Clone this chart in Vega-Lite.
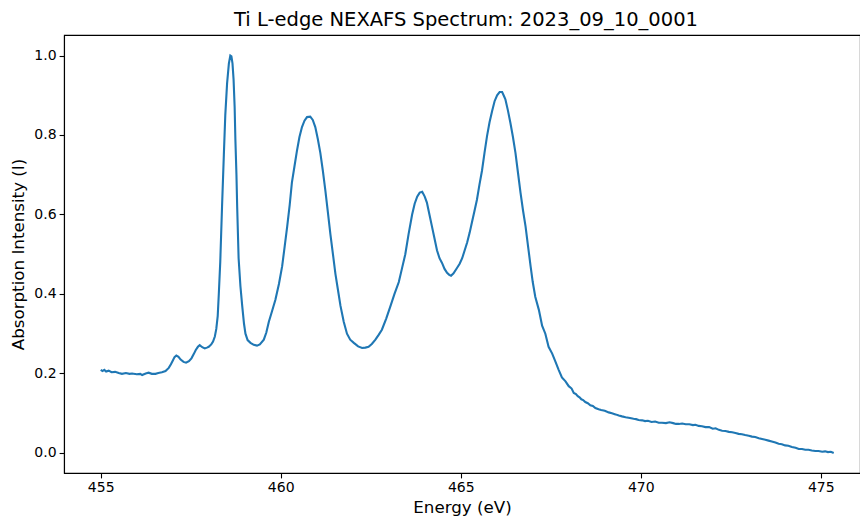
{
  "$schema": "https://vega.github.io/schema/vega-lite/v6.json",
  "width": 796,
  "height": 438,
  "autosize": {"type": "none"},
  "padding": {"left": 64, "top": 35, "right": 0, "bottom": 45},
  "background": "white",
  "title": {
    "text": "Ti L-edge NEXAFS Spectrum: 2023_09_10_0001",
    "font": "DejaVu Sans",
    "fontSize": 19.5,
    "fontWeight": "normal",
    "color": "black",
    "anchor": "middle",
    "dx": 4,
    "offset": 5
  },
  "config": {
    "view": {"stroke": "black", "strokeWidth": 1.1},
    "axis": {
      "grid": false,
      "domainColor": "black",
      "domainWidth": 1.1,
      "tickColor": "black",
      "tickWidth": 1.1,
      "tickSize": 4.9,
      "labelFont": "DejaVu Sans",
      "labelFontSize": 14,
      "labelColor": "black",
      "labelPadding": 3,
      "titleFont": "DejaVu Sans",
      "titleFontSize": 16.7,
      "titleFontWeight": "normal",
      "titleColor": "black"
    }
  },
  "data": {
    "values": [
      {"E": 455.00, "I": 0.209}, {"E": 455.05, "I": 0.206}, {"E": 455.10, "I": 0.209}, {"E": 455.15, "I": 0.205},
      {"E": 455.22, "I": 0.207}, {"E": 455.30, "I": 0.203}, {"E": 455.40, "I": 0.204}, {"E": 455.50, "I": 0.201},
      {"E": 455.59, "I": 0.199}, {"E": 455.70, "I": 0.201}, {"E": 455.80, "I": 0.199}, {"E": 455.87, "I": 0.200},
      {"E": 456.00, "I": 0.198}, {"E": 456.10, "I": 0.199}, {"E": 456.15, "I": 0.196}, {"E": 456.25, "I": 0.200},
      {"E": 456.33, "I": 0.202}, {"E": 456.42, "I": 0.199}, {"E": 456.52, "I": 0.199}, {"E": 456.60, "I": 0.201},
      {"E": 456.70, "I": 0.203}, {"E": 456.80, "I": 0.206}, {"E": 456.89, "I": 0.214}, {"E": 456.95, "I": 0.223},
      {"E": 457.00, "I": 0.232}, {"E": 457.05, "I": 0.241}, {"E": 457.10, "I": 0.245}, {"E": 457.16, "I": 0.242},
      {"E": 457.22, "I": 0.235}, {"E": 457.30, "I": 0.229}, {"E": 457.37, "I": 0.227}, {"E": 457.45, "I": 0.231},
      {"E": 457.52, "I": 0.238}, {"E": 457.58, "I": 0.248}, {"E": 457.64, "I": 0.259}, {"E": 457.70, "I": 0.267},
      {"E": 457.75, "I": 0.271}, {"E": 457.82, "I": 0.266}, {"E": 457.89, "I": 0.263}, {"E": 457.95, "I": 0.265},
      {"E": 458.00, "I": 0.267}, {"E": 458.07, "I": 0.273}, {"E": 458.12, "I": 0.280}, {"E": 458.17, "I": 0.293},
      {"E": 458.21, "I": 0.312}, {"E": 458.25, "I": 0.345}, {"E": 458.28, "I": 0.40}, {"E": 458.32, "I": 0.48},
      {"E": 458.37, "I": 0.62}, {"E": 458.42, "I": 0.75}, {"E": 458.46, "I": 0.85}, {"E": 458.51, "I": 0.93},
      {"E": 458.56, "I": 0.98}, {"E": 458.60, "I": 1.0}, {"E": 458.63, "I": 0.998}, {"E": 458.66, "I": 0.98},
      {"E": 458.69, "I": 0.94}, {"E": 458.72, "I": 0.87}, {"E": 458.74, "I": 0.79}, {"E": 458.77, "I": 0.70},
      {"E": 458.79, "I": 0.62}, {"E": 458.83, "I": 0.49}, {"E": 458.88, "I": 0.42}, {"E": 458.93, "I": 0.37},
      {"E": 458.98, "I": 0.325}, {"E": 459.02, "I": 0.300}, {"E": 459.08, "I": 0.284}, {"E": 459.16, "I": 0.277},
      {"E": 459.25, "I": 0.272}, {"E": 459.34, "I": 0.270}, {"E": 459.42, "I": 0.273}, {"E": 459.53, "I": 0.285},
      {"E": 459.60, "I": 0.303}, {"E": 459.67, "I": 0.330}, {"E": 459.76, "I": 0.357}, {"E": 459.85, "I": 0.385},
      {"E": 459.95, "I": 0.425}, {"E": 460.04, "I": 0.47}, {"E": 460.11, "I": 0.52}, {"E": 460.18, "I": 0.57},
      {"E": 460.25, "I": 0.625}, {"E": 460.31, "I": 0.68}, {"E": 460.38, "I": 0.72}, {"E": 460.45, "I": 0.76},
      {"E": 460.52, "I": 0.795}, {"E": 460.59, "I": 0.82}, {"E": 460.66, "I": 0.836}, {"E": 460.73, "I": 0.845},
      {"E": 460.82, "I": 0.846}, {"E": 460.89, "I": 0.838}, {"E": 460.96, "I": 0.82}, {"E": 461.03, "I": 0.79},
      {"E": 461.10, "I": 0.755}, {"E": 461.17, "I": 0.71}, {"E": 461.24, "I": 0.66}, {"E": 461.31, "I": 0.605},
      {"E": 461.38, "I": 0.55}, {"E": 461.45, "I": 0.50}, {"E": 461.52, "I": 0.45}, {"E": 461.59, "I": 0.41},
      {"E": 461.66, "I": 0.37}, {"E": 461.75, "I": 0.33}, {"E": 461.84, "I": 0.30}, {"E": 461.93, "I": 0.285},
      {"E": 462.03, "I": 0.277}, {"E": 462.15, "I": 0.268}, {"E": 462.26, "I": 0.264}, {"E": 462.35, "I": 0.265},
      {"E": 462.44, "I": 0.267}, {"E": 462.53, "I": 0.274}, {"E": 462.63, "I": 0.285}, {"E": 462.72, "I": 0.297},
      {"E": 462.81, "I": 0.31}, {"E": 462.93, "I": 0.338}, {"E": 463.05, "I": 0.37}, {"E": 463.16, "I": 0.40},
      {"E": 463.28, "I": 0.43}, {"E": 463.37, "I": 0.465}, {"E": 463.46, "I": 0.50}, {"E": 463.55, "I": 0.55},
      {"E": 463.65, "I": 0.60}, {"E": 463.72, "I": 0.627}, {"E": 463.79, "I": 0.645}, {"E": 463.86, "I": 0.655},
      {"E": 463.93, "I": 0.657}, {"E": 464.00, "I": 0.645}, {"E": 464.06, "I": 0.63}, {"E": 464.13, "I": 0.60},
      {"E": 464.20, "I": 0.57}, {"E": 464.27, "I": 0.54}, {"E": 464.34, "I": 0.51}, {"E": 464.41, "I": 0.49},
      {"E": 464.48, "I": 0.478}, {"E": 464.55, "I": 0.463}, {"E": 464.62, "I": 0.453}, {"E": 464.68, "I": 0.448},
      {"E": 464.73, "I": 0.446}, {"E": 464.80, "I": 0.452}, {"E": 464.90, "I": 0.466}, {"E": 464.97, "I": 0.476},
      {"E": 465.04, "I": 0.49}, {"E": 465.11, "I": 0.51}, {"E": 465.18, "I": 0.53}, {"E": 465.25, "I": 0.555},
      {"E": 465.31, "I": 0.58}, {"E": 465.38, "I": 0.608}, {"E": 465.45, "I": 0.637}, {"E": 465.52, "I": 0.675},
      {"E": 465.59, "I": 0.71}, {"E": 465.66, "I": 0.755}, {"E": 465.73, "I": 0.797}, {"E": 465.80, "I": 0.832},
      {"E": 465.87, "I": 0.86}, {"E": 465.94, "I": 0.885}, {"E": 466.01, "I": 0.90}, {"E": 466.08, "I": 0.908},
      {"E": 466.15, "I": 0.908}, {"E": 466.20, "I": 0.898}, {"E": 466.24, "I": 0.89}, {"E": 466.31, "I": 0.862},
      {"E": 466.38, "I": 0.83}, {"E": 466.45, "I": 0.795}, {"E": 466.52, "I": 0.755}, {"E": 466.59, "I": 0.705},
      {"E": 466.66, "I": 0.655}, {"E": 466.73, "I": 0.61}, {"E": 466.80, "I": 0.57}, {"E": 466.87, "I": 0.52},
      {"E": 466.94, "I": 0.47}, {"E": 467.00, "I": 0.43}, {"E": 467.07, "I": 0.393}, {"E": 467.17, "I": 0.36},
      {"E": 467.26, "I": 0.32}, {"E": 467.35, "I": 0.30}, {"E": 467.44, "I": 0.267}, {"E": 467.54, "I": 0.25},
      {"E": 467.63, "I": 0.23}, {"E": 467.72, "I": 0.209}, {"E": 467.81, "I": 0.19}, {"E": 467.91, "I": 0.18},
      {"E": 468.00, "I": 0.168}, {"E": 468.08, "I": 0.162}, {"E": 468.14, "I": 0.151}, {"E": 468.20, "I": 0.148},
      {"E": 468.25, "I": 0.143}, {"E": 468.30, "I": 0.140}, {"E": 468.35, "I": 0.135}, {"E": 468.40, "I": 0.133},
      {"E": 468.46, "I": 0.128}, {"E": 468.53, "I": 0.125}, {"E": 468.60, "I": 0.120}, {"E": 468.67, "I": 0.118},
      {"E": 468.74, "I": 0.113}, {"E": 468.83, "I": 0.110}, {"E": 468.90, "I": 0.108}, {"E": 469.00, "I": 0.106},
      {"E": 469.11, "I": 0.102}, {"E": 469.20, "I": 0.100}, {"E": 469.30, "I": 0.097}, {"E": 469.39, "I": 0.094},
      {"E": 469.48, "I": 0.092}, {"E": 469.58, "I": 0.090}, {"E": 469.70, "I": 0.088}, {"E": 469.80, "I": 0.086},
      {"E": 469.87, "I": 0.085}, {"E": 469.94, "I": 0.083}, {"E": 470.04, "I": 0.082}, {"E": 470.12, "I": 0.080},
      {"E": 470.20, "I": 0.081}, {"E": 470.30, "I": 0.078}, {"E": 470.40, "I": 0.079}, {"E": 470.50, "I": 0.076},
      {"E": 470.59, "I": 0.076}, {"E": 470.70, "I": 0.075}, {"E": 470.80, "I": 0.077}, {"E": 470.90, "I": 0.075},
      {"E": 470.98, "I": 0.073}, {"E": 471.06, "I": 0.073}, {"E": 471.15, "I": 0.074}, {"E": 471.25, "I": 0.072},
      {"E": 471.35, "I": 0.072}, {"E": 471.45, "I": 0.070}, {"E": 471.52, "I": 0.071}, {"E": 471.61, "I": 0.068},
      {"E": 471.70, "I": 0.067}, {"E": 471.80, "I": 0.065}, {"E": 471.90, "I": 0.065}, {"E": 472.00, "I": 0.061},
      {"E": 472.08, "I": 0.062}, {"E": 472.17, "I": 0.058}, {"E": 472.26, "I": 0.056}, {"E": 472.35, "I": 0.055},
      {"E": 472.45, "I": 0.053}, {"E": 472.54, "I": 0.052}, {"E": 472.63, "I": 0.050}, {"E": 472.72, "I": 0.048},
      {"E": 472.81, "I": 0.047}, {"E": 472.90, "I": 0.045}, {"E": 473.00, "I": 0.043}, {"E": 473.09, "I": 0.041},
      {"E": 473.18, "I": 0.040}, {"E": 473.28, "I": 0.037}, {"E": 473.37, "I": 0.035}, {"E": 473.46, "I": 0.033},
      {"E": 473.55, "I": 0.031}, {"E": 473.64, "I": 0.029}, {"E": 473.74, "I": 0.026}, {"E": 473.83, "I": 0.023},
      {"E": 473.92, "I": 0.022}, {"E": 474.01, "I": 0.019}, {"E": 474.10, "I": 0.018}, {"E": 474.20, "I": 0.015},
      {"E": 474.30, "I": 0.013}, {"E": 474.39, "I": 0.010}, {"E": 474.48, "I": 0.010}, {"E": 474.57, "I": 0.008},
      {"E": 474.66, "I": 0.008}, {"E": 474.75, "I": 0.006}, {"E": 474.85, "I": 0.005}, {"E": 474.94, "I": 0.005},
      {"E": 475.04, "I": 0.003}, {"E": 475.12, "I": 0.004}, {"E": 475.20, "I": 0.002}, {"E": 475.28, "I": 0.003},
      {"E": 475.36, "I": 0.000}
    ]
  },
  "mark": {"type": "line", "color": "#1f77b4", "strokeWidth": 2.1, "clip": true},
  "encoding": {
    "x": {
      "field": "E",
      "type": "quantitative",
      "title": "Energy (eV)",
      "scale": {"domain": [453.98, 476.09], "nice": false, "zero": false},
      "axis": {"values": [455, 460, 465, 470, 475], "format": "d", "titlePadding": 5}
    },
    "y": {
      "field": "I",
      "type": "quantitative",
      "title": "Absorption Intensity (I)",
      "scale": {"domain": [-0.0505, 1.0516], "nice": false, "zero": false},
      "axis": {"values": [0, 0.2, 0.4, 0.6, 0.8, 1.0], "format": ".1f", "titlePadding": 6}
    }
  }
}
